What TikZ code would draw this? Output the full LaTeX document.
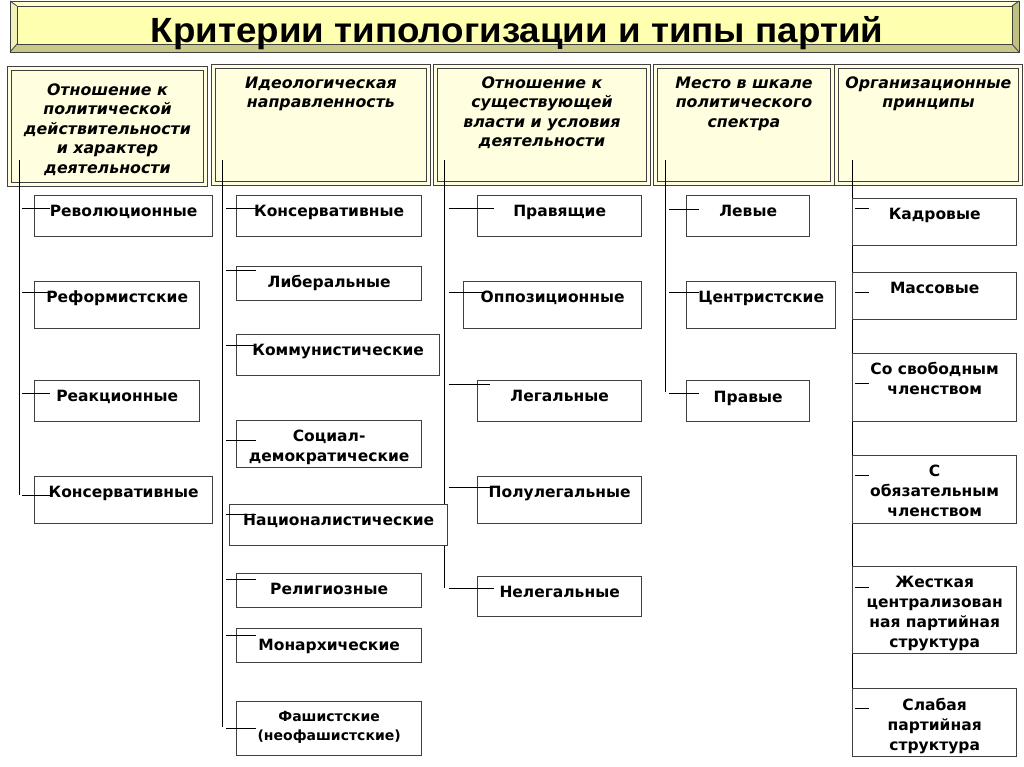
\documentclass[tikz,border=0pt]{standalone}
\usepackage{fontspec}
\setmainfont{DejaVu Sans}
\newfontfamily\titlefont{Liberation Sans}[FakeStretch=1.05]
\usetikzlibrary{calc}
\definecolor{hdrfill}{HTML}{FFFFE0}
\definecolor{titleface}{HTML}{FFFFB0}
\definecolor{bevtop}{HTML}{FFFFD0}
\definecolor{bevleft}{HTML}{F2F2B8}
\definecolor{bevright}{HTML}{C0C080}
\definecolor{bevbot}{HTML}{C8C888}
\definecolor{edge}{HTML}{404040}
\tikzset{
  cbox/.style={draw=edge, line width=1.3pt, inner sep=0pt, fill=white},
  hbox/.style={draw=edge, double=hdrfill, double distance=2.5pt, line width=0.9pt, inner sep=0pt, fill=hdrfill},
  link/.style={draw=black, line width=0.9pt},
  bevel/.style={draw=edge, line width=0.8pt}
}
\newcommand\cbx[7]{\node[cbox, anchor=north west] (#1) at (#2,#3) {\parbox[t][#5pt][t]{#4pt}{\centering\fontsize{15.5}{20}\selectfont\bfseries\rule{0pt}{#6pt}#7}};}
\newcommand\hbx[7]{\node[hbox, anchor=north west] (#1) at (#2,#3) {\parbox[t][#5pt][t]{#4pt}{\centering\fontsize{15.8}{19.5}\selectfont\bfseries\itshape\rule{0pt}{#6pt}#7}};}
\newcommand\stubline[4]{\draw[link] ($(#1.west |- 0,#4)+(#2,0)$) -- ($(#1.west |- 0,#4)+(#3,0)$);}
\begin{document}
\begin{tikzpicture}[x=1pt,y=-1pt]
\useasboundingbox (0,0) rectangle (1024,767);
\fill[white] (0,0) rectangle (1024,767);
% title bevel
\fill[bevtop] (10,1) -- (1019,1) -- (1012,6) -- (17,6) -- cycle;
\fill[bevleft] (10,1) -- (17,6) -- (17,44) -- (10,52) -- cycle;
\fill[bevright] (1019,1) -- (1019,52) -- (1012,44) -- (1012,6) -- cycle;
\fill[bevbot] (10,52) -- (17,44) -- (1012,44) -- (1019,52) -- cycle;
\draw[bevel, fill=titleface] (17,6) rectangle (1012,44);
\draw[bevel] (10,1) rectangle (1019,52);
\draw[bevel] (10,1) -- (17,6) (1019,1) -- (1012,6) (10,52) -- (17,44) (1019,52) -- (1012,44);
\node[font=\titlefont\bfseries\fontsize{35}{35}\selectfont, anchor=base, inner sep=0pt] (title) at (517,43) {Критерии типологизации и типы партий};
% header boxes
\hbx{h1}{9}{68}{196}{116}{27}{Отношение к\\политической\\действительности\\и характер\\деятельности}
\hbx{h2}{213}{66}{215}{117}{22}{Идеологическая\\направленность}
\hbx{h3}{435}{66}{213}{117}{22}{Отношение к\\существующей\\власти и условия\\деятельности}
\hbx{h4}{655}{66}{177}{117}{22}{Место в шкале\\политического\\спектра}
\hbx{h5}{836}{66}{184}{117}{22}{Организационные\\принципы}
% trunks
\coordinate (t1a) at (19,160); \coordinate (t1b) at (19,495);
\coordinate (t2a) at (222,160); \coordinate (t2b) at (222,727);
\coordinate (t3a) at (444,160); \coordinate (t3b) at (444,588);
\coordinate (t4a) at (665,160); \coordinate (t4b) at (665,392);
\coordinate (t5a) at (852,160); \coordinate (t5b) at (852,750);
\draw[link] (t1a) -- (t1b);
\draw[link] (t2a) -- (t2b);
\draw[link] (t3a) -- (t3b);
\draw[link] (t4a) -- (t4b);
\draw[link] (t5a) -- (t5b);
% column 1
\cbx{r1}{34}{195}{178}{41}{21}{Революционные}
\cbx{r2}{34}{281}{165}{47}{21}{Реформистские}
\cbx{r3}{34}{380}{165}{41}{21}{Реакционные}
\cbx{r4}{34}{476}{178}{47}{21}{Консервативные}
% column 2
\cbx{i1}{236}{195}{185}{41}{21}{Консервативные}
\cbx{i2}{236}{266}{185}{34}{21}{Либеральные}
\cbx{i3}{236}{334}{203}{41}{21}{Коммунистические}
\cbx{i4}{236}{420}{185}{47}{21}{Социал-\\демократические}
\cbx{i5}{229}{504}{218}{41}{21}{Националистические}
\cbx{i6}{236}{573}{185}{34}{21}{Религиозные}
\cbx{i7}{236}{628}{185}{34}{22}{Монархические}
\node[cbox, anchor=north west] (i8) at (236,701) {\parbox[t][54pt][t]{185pt}{\centering\fontsize{14}{19}\selectfont\bfseries\rule{0pt}{20pt}Фашистские\\(неофашистские)}};
% column 3
\cbx{p1}{477}{195}{164}{41}{21}{Правящие}
\cbx{p2}{463}{281}{178}{47}{21}{Оппозиционные}
\cbx{p3}{477}{380}{164}{41}{21}{Легальные}
\cbx{p4}{477}{476}{164}{47}{21}{Полулегальные}
\cbx{p5}{477}{576}{164}{40}{21}{Нелегальные}
% column 4
\cbx{l1}{686}{195}{123}{41}{21}{Левые}
\cbx{l2}{686}{281}{149}{47}{21}{Центристские}
\cbx{l3}{686}{380}{123}{41}{22}{Правые}
% column 5
\cbx{o1}{852}{198}{164}{47}{21}{Кадровые}
\cbx{o2}{852}{272}{164}{47}{21}{Массовые}
\cbx{o3}{852}{353}{164}{68}{21}{Со свободным\\членством}
\cbx{o4}{852}{455}{164}{68}{21}{С\\обязательным\\членством}
\cbx{o5}{852}{566}{164}{87}{21}{Жесткая\\централизован\\ная партийная\\структура}
\cbx{o6}{852}{688}{164}{68}{22}{Слабая\\партийная\\структура}
% stubs
\stubline{r1}{-12}{16}{208}
\stubline{r2}{-12}{16}{292}
\stubline{r3}{-12}{16}{393}
\stubline{r4}{-12}{16}{495}
\stubline{i1}{-10}{20}{208}
\stubline{i2}{-10}{20}{270}
\stubline{i3}{-10}{20}{345}
\stubline{i4}{-10}{20}{440}
\stubline{i5}{-3}{27}{514}
\stubline{i6}{-10}{20}{579}
\stubline{i7}{-10}{20}{635}
\stubline{i8}{-10}{20}{728}
\stubline{p1}{-28}{17}{208}
\stubline{p2}{-14}{22}{292}
\stubline{p3}{-28}{13}{384}
\stubline{p4}{-28}{13}{487}
\stubline{p5}{-28}{17}{588}
\stubline{l1}{-17}{13}{209}
\stubline{l2}{-17}{13}{292}
\stubline{l3}{-17}{13}{393}
\stubline{o1}{3}{17}{208}
\stubline{o2}{3}{17}{292}
\stubline{o3}{3}{17}{383}
\stubline{o4}{3}{17}{475}
\stubline{o5}{3}{17}{587}
\stubline{o6}{3}{17}{708}
\end{tikzpicture}
\end{document}
